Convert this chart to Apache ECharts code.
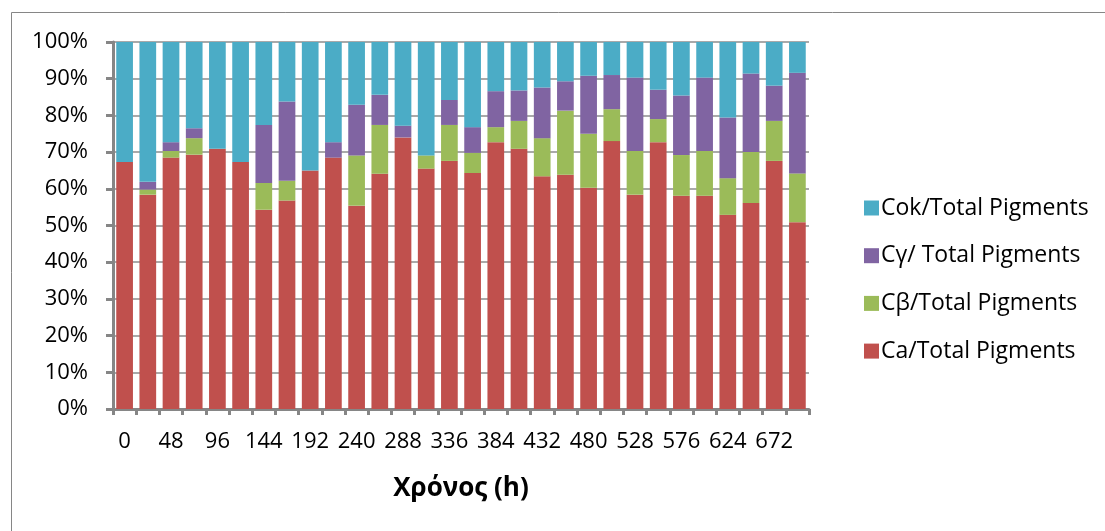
<!DOCTYPE html>
<html>
<head>
<meta charset="utf-8">
<script src="https://cdn.jsdelivr.net/npm/echarts@6/dist/echarts.min.js"></script>
<style>
html,body{margin:0;padding:0;background:#fff;}
#chart{width:1105px;height:531px;}
</style>
</head>
<body>
<div id="chart"></div>
<script>
// Time (h)
var categories = ['0','24','48','72','96','120','144','168','192','216','240','264','288','312','336','360','384','408','432','456','480','504','528','552','576','600','624','648','672','696'];
// Ca / Total Pigments (%)
var ca  = [67.3,58.4,68.5,69.3,70.9,67.3,54.3,56.8,65.0,68.5,55.4,64.1,74.0,65.5,67.6,64.3,72.7,70.9,63.4,63.8,60.3,73.0,58.4,72.7,58.1,58.1,52.9,56.1,67.6,50.9];
// Cβ / Total Pigments (%)
var cb  = [0,1.4,1.8,4.5,0,0,7.3,5.4,0,0,13.7,13.3,0,3.6,9.8,5.5,4.1,7.6,10.4,17.5,14.7,8.7,11.9,6.3,11.1,12.2,10.0,13.9,10.9,13.3];
// Cγ / Total Pigments (%)
var cg  = [0,2.1,2.4,2.7,0,0,15.8,21.6,0,4.2,13.8,8.2,3.2,0,6.8,7.0,9.8,8.3,13.8,8.0,15.8,9.3,20.0,8.0,16.2,20.0,16.5,21.4,9.6,27.4];
// Cok / Total Pigments (%)
var cok = [32.7,38.1,27.3,23.5,29.1,32.7,22.6,16.2,35.0,27.3,17.1,14.4,22.8,30.9,15.8,23.2,13.4,13.2,12.4,10.7,9.2,9.0,9.7,13.0,14.6,9.7,20.6,8.6,11.9,8.4];
var seriesNames = ['Ca/Total Pigments','Cβ/Total Pigments','Cγ/ Total Pigments','Cok/Total Pigments'];
var yTicks = [0,10,20,30,40,50,60,70,80,90,100];

var FONT = 'Open Sans';
var colors = ['#C0504D','#9BBB59','#8064A2','#4BACC6'];
var dataSets = [ca, cb, cg, cok];

var chart = echarts.init(document.getElementById('chart'), null, {renderer:'canvas'});
var option = {
  animation: false,
  backgroundColor: '#fff',
  graphic: [{
    type: 'rect', silent: true,
    shape: {x: 11.5, y: 12.5, width: 1300, height: 700},
    style: {fill: 'none', stroke: '#868686', lineWidth: 1}
  }],
  grid: {left: 113, right: 296, top: 42, bottom: 122, containLabel: false},
  legend: {
    orient: 'vertical',
    left: 859, top: 189,
    itemWidth: 15, itemHeight: 15,
    itemGap: 19.7,
    icon: 'rect',
    data: [seriesNames[3], seriesNames[2], seriesNames[1], seriesNames[0]],
    textStyle: {fontFamily: FONT, fontSize: 23, color: '#000', lineHeight: 28, padding: [0,0,0,-3]}
  },
  xAxis: {
    type: 'category',
    data: categories,
    boundaryGap: true,
    axisLine: {lineStyle: {color: '#868686', width: 3}},
    axisTick: {show: true, interval: 0, length: 6, lineStyle: {color: '#868686', width: 3}},
    axisLabel: {interval: 1, fontFamily: FONT, fontSize: 22, color: '#000', margin: 22},
    name: 'Χρόνος (h)',
    nameLocation: 'middle',
    nameGap: 67,
    nameTextStyle: {fontFamily: FONT, fontSize: 26, fontWeight: 'bold', color: '#000'}
  },
  yAxis: {
    type: 'value',
    min: 0, max: 100, interval: 10,
    axisLine: {show: true, lineStyle: {color: '#868686', width: 3}},
    axisTick: {show: true, length: 7, lineStyle: {color: '#868686', width: 3}},
    axisLabel: {
      fontFamily: FONT, fontSize: 22, color: '#000', margin: 25,
      formatter: function(v){ return yTicks.indexOf(v) >= 0 ? v + '%' : ''; }
    },
    splitLine: {show: true, lineStyle: {color: '#8c8c8c', width: 1.5}}
  },
  series: seriesNames.map(function(n, i){
    return {
      name: n, type: 'bar', stack: 'total',
      data: dataSets[i],
      barCategoryGap: '28%',
      itemStyle: {color: colors[i]}
    };
  })
};
chart.setOption(option);
</script>
</body>
</html>
